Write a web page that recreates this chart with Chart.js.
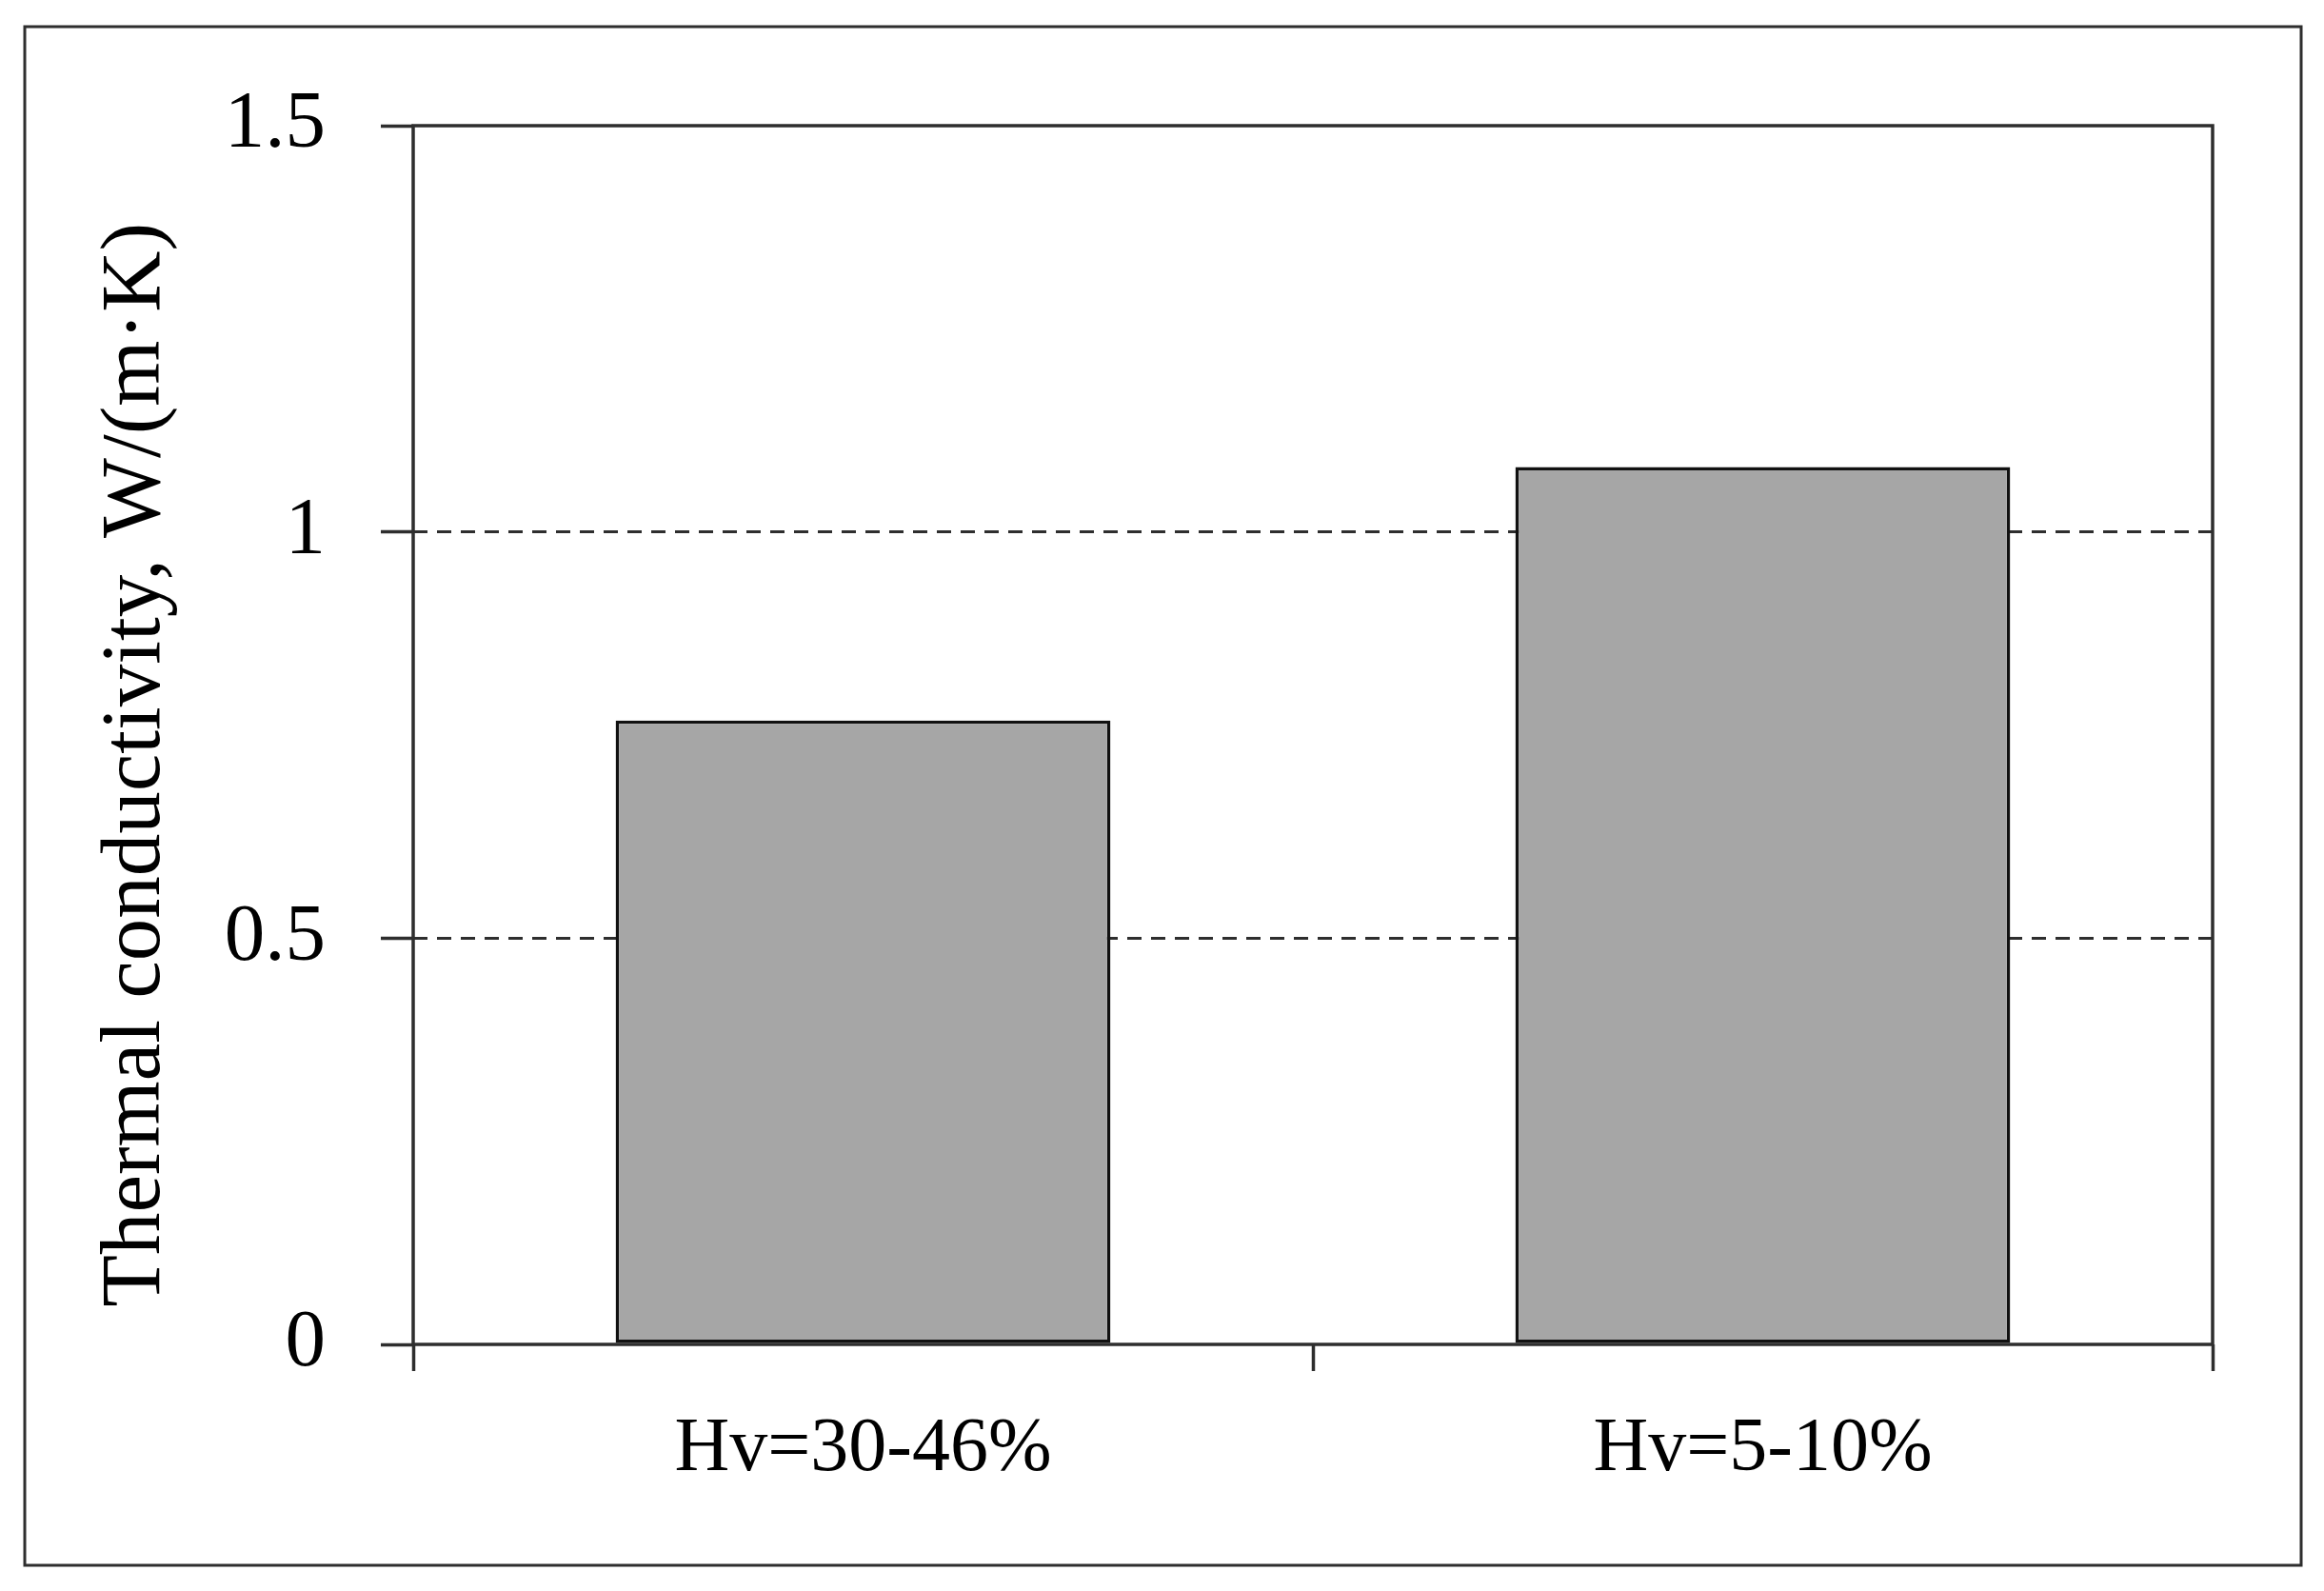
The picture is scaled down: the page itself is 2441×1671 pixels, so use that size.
<!DOCTYPE html>
<html>
<head>
<meta charset="utf-8">
<script src="https://cdn.jsdelivr.net/npm/chart.js@4.4.0/dist/chart.umd.min.js"></script>
<style>
  html, body { margin: 0; padding: 0; background: #fff; }
  #wrap { width: 2441px; height: 1671px; }
</style>
</head>
<body>
<div id="wrap"><canvas id="chart"></canvas></div>
<script>
// Data
const categories = ["Hv=30-46%", "Hv=5-10%"];
const conductivity = [0.768, 1.08];
const yTicks = [0, 0.5, 1, 1.5];
const yTickLabels = ["0", "0.5", "1", "1.5"];
const yTitle = "Thermal conductivity, W/(m·K)";

const lineColor = "#2e2e2e";

// Outer frame around the whole figure + box around the plot
const framePlugin = {
  id: "frames",
  beforeDraw: (chart) => {
    const ctx = chart.ctx;
    ctx.save();
    ctx.fillStyle = "#ffffff";
    ctx.fillRect(0, 0, chart.width, chart.height);
    ctx.strokeStyle = lineColor;
    ctx.lineWidth = 3;
    ctx.strokeRect(26, 28, 2391, 1616);
    ctx.restore();
  },
  afterDatasetsDraw: (chart) => {
    const { ctx, chartArea } = chart;
    ctx.save();
    ctx.strokeStyle = lineColor;
    ctx.lineWidth = 3.5;
    ctx.strokeRect(
      chartArea.left,
      chartArea.top,
      chartArea.right - chartArea.left,
      chartArea.bottom - chartArea.top
    );
    ctx.restore();
  },
};

new Chart(document.querySelector("#chart"), {
  type: "bar",
  data: {
    labels: categories,
    datasets: [
      {
        data: conductivity,
        backgroundColor: "#a6a6a6",
        borderColor: "#111111",
        borderWidth: 3.5,
        borderSkipped: false,
        barPercentage: 0.55,
        categoryPercentage: 1,
      },
    ],
  },
  options: {
    responsive: true,
    maintainAspectRatio: false,
    animation: false,
    devicePixelRatio: 1,
    layout: { padding: { top: 132, right: 117, left: 0, bottom: 0 } },
    plugins: {
      legend: { display: false },
      tooltip: { enabled: false },
    },
    scales: {
      x: {
        offset: true,
        afterFit: (scale) => {
          scale.height = 259;
        },
        grid: {
          offset: true,
          drawOnChartArea: false,
          tickLength: 28,
          tickWidth: 3.5,
          tickColor: lineColor,
        },
        border: { display: false },
        ticks: {
          color: "#000",
          padding: 35,
          maxRotation: 0,
          font: { family: "Liberation Serif", size: 80 },
        },
      },
      y: {
        min: 0,
        max: 1.5,
        afterFit: (scale) => {
          scale.width = 434;
        },
        afterBuildTicks: (scale) => {
          scale.ticks = yTicks.map((v) => ({ value: v }));
        },
        grid: {
          color: (ctx) =>
            ctx.tick && ctx.tick.value > 0 && ctx.tick.value < 1.5
              ? lineColor
              : "rgba(0,0,0,0)",
          lineWidth: 3,
          tickLength: 34,
          tickWidth: 3.5,
          tickColor: lineColor,
          tickBorderDash: [1, 0],
        },
        border: { display: false, dash: [15, 10] },
        ticks: {
          color: "#000",
          padding: 58,
          font: { family: "Liberation Serif", size: 85 },
          callback: (value, index) => yTickLabels[index],
        },
        title: {
          display: true,
          // trailing spaces nudge the rotated title a bit lower
          text: yTitle + "\u2002\u2009",
          color: "#000",
          padding: { top: 90, bottom: 0 },
          font: { family: "Liberation Serif", size: 89 },
        },
      },
    },
  },
  plugins: [framePlugin],
});
</script>
</body>
</html>
